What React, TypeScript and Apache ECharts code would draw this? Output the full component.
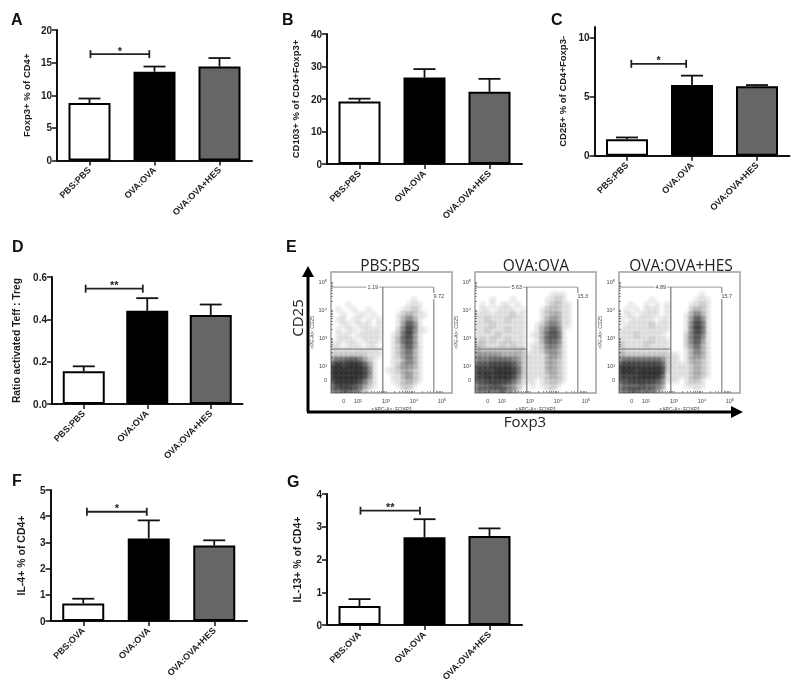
import React, { useEffect, useRef } from "react";
import * as echarts from "echarts";

const catsPbs = ["PBS:PBS", "OVA:OVA", "OVA:OVA+HES"];
const catsOva = ["PBS:OVA", "OVA:OVA", "OVA:OVA+HES"];
const barColors = ["#ffffff", "#000000", "#666666"];

const meanA = [8.8, 13.6, 14.4];
const errA = [9.5, 14.4, 15.7];
const meanB = [19.2, 26.6, 22.2];
const errB = [20.1, 29.2, 26.2];
const meanC = [1.4, 6.0, 5.9];
const errC = [1.55, 6.8, 6.0];
const meanD = [0.155, 0.44, 0.42];
const errD = [0.178, 0.5, 0.47];
const meanF = [0.67, 3.15, 2.88];
const errF = [0.85, 3.84, 3.08];
const meanG = [0.58, 2.68, 2.72];
const errG = [0.79, 3.23, 2.95];

const bracketA = [0.015, 0.92, 16.3];
const bracketC = [0.066, 0.91, 7.8];
const bracketD = [0.03, 0.93, 0.545];
const bracketF = [0.056, 0.97, 4.17];
const bracketG = [0.015, 0.93, 3.49];

const ticksA = [0, 5, 10, 15, 20];
const ticksB = [0, 10, 20, 30, 40];
const ticksC = [0, 5, 10];
const ticksD = [0, 0.2, 0.4, 0.6];
const ticksF = [0, 1, 2, 3, 4, 5];
const ticksG = [0, 1, 2, 3, 4];

const flowTitles = ["PBS:PBS", "OVA:OVA", "OVA:OVA+HES"];
const flowTickPositions = [1.5, 2, 3, 4, 5];
const flowTickLabels = ["0", "10²", "10³", "10⁴", "10⁵"];
const flowMinorTicks = [
  1.5, 2, 2.3, 2.48, 2.6, 2.7, 2.78, 2.85, 2.9, 2.95, 3, 3.3, 3.48, 3.6, 3.7, 3.78, 3.85, 3.9, 3.95, 4, 4.3, 4.48, 4.6,
  4.7, 4.78, 4.85, 4.9, 4.95, 5,
];
const gatePcts = [
  ["1.19", "9.72"],
  ["5.63", "15.3"],
  ["4.89", "15.7"],
];

// Estimated event density (0 = none, 9 = saturated) read cell by cell, top row first.
const densityPbs = [
  "000000000000000000000000",
  "000000000000000000000000",
  "000000000000000000000000",
  "000000000000000000000000",
  "000000000000000000000000",
  "000000000000000010000000",
  "000100000000000111000000",
  "010010010000001121000000",
  "001001101000012321100000",
  "011011010100013531000000",
  "001101110100014751000000",
  "010110111100025851100000",
  "011101111100126841000000",
  "011110111100136741000000",
  "110111011000125741000000",
  "111111111100124631000000",
  "222222211100124531000000",
  "566776421000113531000000",
  "898999741000124431000000",
  "999999851001123321000000",
  "999999851000113421000000",
  "899998631000112321000000",
  "688876421000012210000000",
  "667765210000001100000000",
];
const densityOva = [
  "000000000000000000000000",
  "000000000000000000000000",
  "000000000000000000000000",
  "000000000000000000000000",
  "000000000000000111000000",
  "000100010000001121000000",
  "010101101000001221100000",
  "011011110100012221100000",
  "111111121100012331100000",
  "112111211100013431100000",
  "111211111100124541100000",
  "112111211100135751000000",
  "111121111101136761000000",
  "121211211100136651000000",
  "221112121101125541000000",
  "322222222201124431000000",
  "444443333211113431000000",
  "555666654211113321000000",
  "777888875211113321000000",
  "888899986211113321000000",
  "889899985211112321000000",
  "778888864111012221000000",
  "566776542101011210000000",
  "666667542000001100000000",
];
const densityHes = [
  "000000000000000000000000",
  "000000000000000000000000",
  "000000000000000000000000",
  "000000000000000000000000",
  "000000000000000010000000",
  "000000100000000111000000",
  "001001010100001121000000",
  "010101110100002321000000",
  "011011110100013531000000",
  "101111101100014751000000",
  "011111211100015861000000",
  "111111111100015861000000",
  "111211111000025751000000",
  "111111211100025741000000",
  "211112111100024631000000",
  "211111111100013531000000",
  "322222222211013431000000",
  "566666665211013321000000",
  "888888887211112321000000",
  "999899998211112321000000",
  "888899997111112321000000",
  "778888875111012210000000",
  "566676654000011110000000",
  "667766642000000100000000",
];

const FLOW_MIN = 1.04;
const FLOW_MAX = 5.36;
const FONT = '"Liberation Sans", Arial, sans-serif';
const INK = "#1c1c1c";

const panels = [
  { letter: "A", lx: 11, ly: 11, left: 57, top: 30, w: 195, h: 130.5, cats: catsPbs, mean: meanA, err: errA, bracket: bracketA, stars: "*", ticks: ticksA, max: 20, name: "Foxp3+ % of CD4+", gap: 26, digits: 0, nameSize: 9.5 },
  { letter: "B", lx: 282, ly: 11, left: 327, top: 34, w: 195, h: 130, cats: catsPbs, mean: meanB, err: errB, bracket: null, stars: "", ticks: ticksB, max: 40, name: "CD103+ % of CD4+Foxp3+", gap: 27, digits: 0, nameSize: 9.5 },
  { letter: "C", lx: 551, ly: 11, left: 594.5, top: 27, w: 195, h: 128.7, cats: catsPbs, mean: meanC, err: errC, bracket: bracketC, stars: "*", ticks: ticksC, max: 10.93, name: "CD25+ % of CD4+Foxp3-", gap: 27, digits: 0, nameSize: 9.5 },
  { letter: "D", lx: 12, ly: 238, left: 52, top: 277, w: 190.5, h: 127, cats: catsPbs, mean: meanD, err: errD, bracket: bracketD, stars: "**", ticks: ticksD, max: 0.6, name: "Ratio activated Teff : Treg", gap: 31, digits: 1, nameSize: 10.3 },
  { letter: "F", lx: 12, ly: 472, left: 50.5, top: 490, w: 196.5, h: 131, cats: catsOva, mean: meanF, err: errF, bracket: bracketF, stars: "*", ticks: ticksF, max: 5, name: "IL-4+ % of CD4+", gap: 24, digits: 0, nameSize: 10.5 },
  { letter: "G", lx: 287, ly: 473, left: 327, top: 494, w: 195, h: 131, cats: catsOva, mean: meanG, err: errG, bracket: bracketG, stars: "**", ticks: ticksG, max: 4, name: "IL-13+ % of CD4+", gap: 25, digits: 0, nameSize: 10.5 },
];

const flowPanels = [
  { left: 331, top: 272, size: 121, density: densityPbs, titleX: 390 },
  { left: 475, top: 272, size: 121, density: densityOva, titleX: 536 },
  { left: 619, top: 272, size: 121, density: densityHes, titleX: 681 },
];

function lineEl(x1: number, y1: number, x2: number, y2: number, color: string, width: number) {
  return { type: "line", shape: { x1, y1, x2, y2 }, style: { stroke: color, lineWidth: width, fill: null } };
}

function buildOption() {
  const grid: any[] = [];
  const xAxis: any[] = [];
  const yAxis: any[] = [];
  const series: any[] = [];
  const graphic: any[] = [];

  panels.forEach((p) => {
    const g = grid.length;
    grid.push({ left: p.left, top: p.top, width: p.w, height: p.h, show: false });
    const xCat = xAxis.length;
    const axisLine = { show: true, onZero: false, lineStyle: { color: "#111", width: 2 } };
    xAxis.push({
      type: "category",
      gridIndex: g,
      data: p.cats,
      axisLine,
      axisTick: { show: true, alignWithLabel: true, length: 5, lineStyle: { color: "#111", width: 1.5 } },
      axisLabel: { rotate: 45, margin: 8, interval: 0, fontFamily: FONT, fontWeight: "bold", fontSize: 9, color: INK },
    });
    const xVal = xAxis.length;
    xAxis.push({ type: "value", gridIndex: g, min: -0.5, max: 2.5, show: false });
    const y = yAxis.length;
    yAxis.push({
      type: "value",
      gridIndex: g,
      min: 0,
      max: p.max,
      axisLine,
      splitLine: { show: false },
      axisTick: { show: true, length: 5, customValues: p.ticks, lineStyle: { color: "#111", width: 1.5 } },
      axisLabel: {
        customValues: p.ticks,
        margin: 5,
        fontFamily: FONT,
        fontWeight: "bold",
        fontSize: 10,
        color: INK,
        formatter: (v: number) => v.toFixed(p.digits),
      },
      name: p.name,
      nameLocation: "middle",
      nameGap: p.gap,
      nameRotate: 90,
      nameTextStyle: { fontFamily: FONT, fontWeight: "bold", fontSize: p.nameSize, color: INK },
    });
    series.push({
      type: "bar",
      xAxisIndex: xCat,
      yAxisIndex: y,
      barWidth: 42,
      z: 3,
      data: p.mean.map((v, i) => ({
        value: v,
        itemStyle: { color: barColors[i], borderColor: "#000", borderWidth: 2 },
      })),
    });
    series.push({
      type: "custom",
      xAxisIndex: xVal,
      yAxisIndex: y,
      z: 2,
      silent: true,
      clip: false,
      encode: { x: 0, y: 1 },
      data: p.mean.map((m, i) => [i, m, p.err[i]]),
      renderItem: (_: any, api: any) => {
        const a = api.coord([api.value(0), api.value(1)]);
        const b = api.coord([api.value(0), api.value(2)]);
        return {
          type: "group",
          children: [
            lineEl(a[0], a[1], a[0], b[1], "#111", 1.8),
            lineEl(a[0] - 11, b[1], a[0] + 11, b[1], "#111", 1.8),
          ],
        };
      },
    });
    if (p.bracket) {
      const stars = p.stars;
      series.push({
        type: "custom",
        xAxisIndex: xVal,
        yAxisIndex: y,
        z: 4,
        silent: true,
        clip: false,
        encode: { x: 0, y: 2 },
        data: [p.bracket],
        renderItem: (_: any, api: any) => {
          const a = api.coord([api.value(0), api.value(2)]);
          const b = api.coord([api.value(1), api.value(2)]);
          return {
            type: "group",
            children: [
              lineEl(a[0], a[1], b[0], a[1], "#222", 1.8),
              lineEl(a[0], a[1] - 4, a[0], a[1] + 4, "#222", 1.8),
              lineEl(b[0], a[1] - 4, b[0], a[1] + 4, "#222", 1.8),
              {
                type: "text",
                style: {
                  text: stars,
                  x: (a[0] + b[0]) / 2,
                  y: a[1] + 2,
                  align: "center",
                  verticalAlign: "bottom",
                  font: `bold 11px ${FONT}`,
                  fill: "#222",
                },
              },
            ],
          };
        },
      });
    }
    graphic.push({
      type: "text",
      x: p.lx,
      y: p.ly,
      style: { text: p.letter, font: `bold 16px ${FONT}`, fill: "#111", textVerticalAlign: "top" },
    });
  });

  flowPanels.forEach((f, k) => {
    const g = grid.length;
    grid.push({ left: f.left, top: f.top, width: f.size, height: f.size, show: true, borderColor: "#a0a0a0", borderWidth: 1.5, backgroundColor: "#fff" });
    const x = xAxis.length;
    const labelBase = {
      customValues: flowTickPositions,
      fontFamily: FONT,
      fontSize: 5.5,
      color: "#444",
      formatter: (v: number) => flowTickLabels[flowTickPositions.indexOf(v)] ?? "",
    };
    const tickBase = { show: true, inside: true, length: 2, customValues: flowMinorTicks, lineStyle: { color: "#777", width: 0.8 } };
    xAxis.push({
      type: "value",
      gridIndex: g,
      min: FLOW_MIN,
      max: FLOW_MAX,
      axisLine: { show: false, onZero: false },
      splitLine: { show: false },
      axisTick: tickBase,
      axisLabel: { ...labelBase, margin: 5 },
      name: "<APC-A>: FOXP3",
      nameLocation: "middle",
      nameGap: 13,
      nameTextStyle: { fontFamily: FONT, fontSize: 5, color: "#444" },
    });
    const y = yAxis.length;
    yAxis.push({
      type: "value",
      gridIndex: g,
      min: FLOW_MIN,
      max: FLOW_MAX,
      axisLine: { show: false, onZero: false },
      splitLine: { show: false },
      axisTick: tickBase,
      axisLabel: { ...labelBase, margin: 4 },
      name: "<PE-A>: CD25",
      nameLocation: "middle",
      nameGap: 16,
      nameRotate: 90,
      nameTextStyle: { fontFamily: FONT, fontSize: 5, color: "#444" },
    });
    const cells: number[][] = [];
    f.density.forEach((row, r) => {
      row.split("").forEach((d, c) => {
        if (d !== "0") cells.push([c, r, Number(d)]);
      });
    });
    const step = (FLOW_MAX - FLOW_MIN) / f.density.length;
    series.push({
      type: "custom",
      xAxisIndex: x,
      yAxisIndex: y,
      silent: true,
      clip: true,
      z: 2,
      encode: { x: 0, y: 1 },
      data: cells,
      renderItem: (_: any, api: any) => {
        const c = api.value(0);
        const r = api.value(1);
        const centre = api.coord([FLOW_MIN + (c + 0.5) * step, FLOW_MAX - (r + 0.5) * step]);
        const edge = api.coord([FLOW_MIN + (c + 1.6) * step, FLOW_MAX - (r + 0.5) * step]);
        const alpha = (api.value(2) / 9) * 0.72;
        return {
          type: "circle",
          shape: { cx: centre[0], cy: centre[1], r: edge[0] - centre[0] },
          style: {
            fill: {
              type: "radial",
              x: 0.5,
              y: 0.5,
              r: 0.5,
              colorStops: [
                { offset: 0, color: `rgba(0,0,0,${alpha})` },
                { offset: 0.45, color: `rgba(0,0,0,${alpha * 0.75})` },
                { offset: 1, color: "rgba(0,0,0,0)" },
              ],
            },
          },
        };
      },
    });
    const pct = gatePcts[k];
    series.push({
      type: "custom",
      xAxisIndex: x,
      yAxisIndex: y,
      silent: true,
      z: 3,
      encode: { x: 0, y: 1 },
      data: [[2.89, 4.71, 4.82, 2.61]],
      renderItem: (_: any, api: any) => {
        const xl = api.value(0);
        const xr = api.value(1);
        const yt = api.value(2);
        const ym = api.value(3);
        const tl = api.coord([FLOW_MIN, yt]);
        const tr = api.coord([xr, yt]);
        const br = api.coord([xr, FLOW_MIN]);
        const mt = api.coord([xl, yt]);
        const mb = api.coord([xl, FLOW_MIN]);
        const ml = api.coord([FLOW_MIN, ym]);
        const mm = api.coord([xl, ym]);
        const txt = (text: string, px: number, py: number) => ({
          type: "text",
          style: { text, x: px, y: py, align: "center", verticalAlign: "middle", font: `5.5px ${FONT}`, fill: "#444", backgroundColor: "#fff", padding: [0, 1] },
          z2: 5,
        });
        return {
          type: "group",
          children: [
            lineEl(tl[0], tl[1], tr[0], tr[1], "#999", 1),
            lineEl(tr[0], tr[1], br[0], br[1], "#888", 1.2),
            lineEl(mt[0], mt[1], mb[0], mb[1], "#777", 1.2),
            lineEl(ml[0], ml[1], mm[0], mm[1], "#888", 1.2),
            txt(pct[0], mt[0] - 10, tl[1]),
            txt(pct[1], tr[0] + 5, tl[1] + 9),
          ],
        };
      },
    });
    graphic.push({
      type: "text",
      x: f.titleX,
      y: 265,
      style: { text: flowTitles[k], font: '15.5px "Open Sans", sans-serif', fill: "#222", textAlign: "center", textVerticalAlign: "middle" },
    });
  });

  // Panel E letter, big axes and their labels.
  graphic.push(
    { type: "text", x: 286, y: 238, style: { text: "E", font: `bold 16px ${FONT}`, fill: "#111", textVerticalAlign: "top" } },
    { type: "line", shape: { x1: 308, y1: 412, x2: 308, y2: 274 }, style: { stroke: "#000", lineWidth: 3 } },
    { type: "line", shape: { x1: 307, y1: 412, x2: 733, y2: 412 }, style: { stroke: "#000", lineWidth: 3 } },
    { type: "polygon", shape: { points: [[308, 266], [302, 277], [314, 277]] }, style: { fill: "#000" } },
    { type: "polygon", shape: { points: [[743, 412], [731, 406], [731, 418]] }, style: { fill: "#000" } },
    {
      type: "text",
      x: 297,
      y: 318,
      rotation: Math.PI / 2,
      style: { text: "CD25", font: '15px "Open Sans", sans-serif', fill: "#222", textAlign: "center", textVerticalAlign: "middle" },
    },
    {
      type: "text",
      x: 525,
      y: 421,
      style: { text: "Foxp3", font: '15px "Open Sans", sans-serif', fill: "#222", textAlign: "center", textVerticalAlign: "middle" },
    }
  );

  return { animation: false, backgroundColor: "#fff", grid, xAxis, yAxis, series, graphic };
}

export default function App() {
  const ref = useRef<HTMLDivElement>(null);
  useEffect(() => {
    const chart = echarts.init(ref.current!, undefined, { renderer: "svg" });
    chart.setOption(buildOption() as any);
    return () => chart.dispose();
  }, []);
  return (
    <div
      ref={ref}
      style={{ position: "absolute", left: 0, top: 0, width: 800, height: 696, filter: "blur(0.45px)" }}
    />
  );
}
